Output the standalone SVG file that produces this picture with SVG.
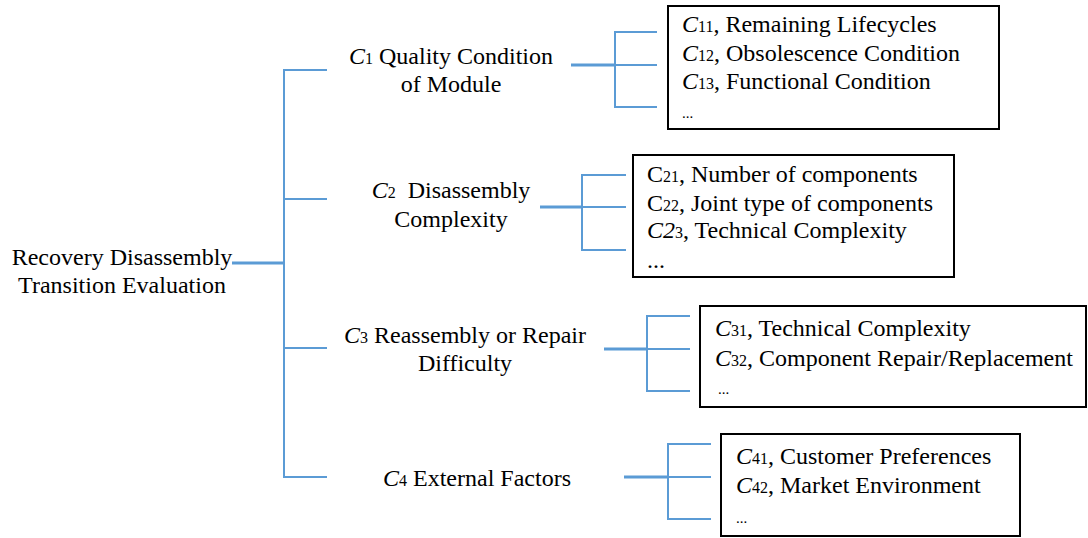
<svg xmlns="http://www.w3.org/2000/svg" width="1088" height="538" viewBox="0 0 1088 538">
  <style>
    text { font-family: "Liberation Serif", "Times New Roman", serif; fill: #000; }
    .lbl { font-size: 24px; text-anchor: middle; }
    .itm { font-size: 24px; }
    .i { font-style: italic; }
    .sub { font-size: 16px; }
    .dots { font-size: 15px; }
    .ln { stroke: #5B9BD5; stroke-width: 2; fill: none; }
    .stem { stroke: #5B9BD5; stroke-width: 3; fill: none; }
    .box { fill: #fff; stroke: #000; stroke-width: 2; }
  </style>

  <!-- connectors -->
  <g id="connectors">
    <!-- root trunk and first-level bracket -->
    <line class="stem" x1="232" y1="263" x2="284" y2="263"/>
    <path class="ln" d="M327 70 H284 V477 H327 M284 199 H327 M284 348 H327"/>
    <!-- C1 bracket -->
    <line class="stem" x1="571" y1="65" x2="615" y2="65"/>
    <path class="ln" d="M657 32 H615 V107 H657 M615 65 H657"/>
    <!-- C2 bracket -->
    <line class="stem" x1="540" y1="207" x2="582" y2="207"/>
    <path class="ln" d="M626 175 H582 V250 H626 M582 207 H626"/>
    <!-- C3 bracket -->
    <line class="stem" x1="604" y1="349" x2="647" y2="349"/>
    <path class="ln" d="M690 316 H647 V391 H690 M647 349 H690"/>
    <!-- C4 bracket -->
    <line class="stem" x1="624" y1="477" x2="668" y2="477"/>
    <path class="ln" d="M711 444 H668 V519 H711 M668 477 H711"/>
  </g>

  <!-- root -->
  <g id="root">
    <text class="lbl" x="122" y="265">Recovery Disassembly</text>
    <text class="lbl" x="122" y="293">Transition Evaluation</text>
  </g>

  <!-- first-level criteria -->
  <g id="c1">
    <text class="lbl" x="451" y="64"><tspan class="i">C</tspan><tspan class="sub">1</tspan> Quality Condition</text>
    <text class="lbl" x="451" y="92">of Module</text>
  </g>
  <g id="c2">
    <text class="lbl" x="451" y="198"><tspan class="i">C</tspan><tspan class="sub">2</tspan>&#160; Disassembly</text>
    <text class="lbl" x="451" y="227">Complexity</text>
  </g>
  <g id="c3">
    <text class="lbl" x="465" y="343"><tspan class="i">C</tspan><tspan class="sub">3</tspan> Reassembly or Repair</text>
    <text class="lbl" x="465" y="371">Difficulty</text>
  </g>
  <g id="c4">
    <text class="lbl" x="477" y="486"><tspan class="i">C</tspan><tspan class="sub">4</tspan> External Factors</text>
  </g>

  <!-- sub-criteria boxes -->
  <g id="c1-items">
    <rect class="box" x="668" y="6" width="331" height="123"/>
    <text class="itm" x="682" y="32"><tspan class="i">C</tspan><tspan class="sub">11</tspan>, Remaining Lifecycles</text>
    <text class="itm" x="682" y="61"><tspan class="i">C</tspan><tspan class="sub">12</tspan>, Obsolescence Condition</text>
    <text class="itm" x="682" y="89"><tspan class="i">C</tspan><tspan class="sub">13</tspan>, Functional Condition</text>
    <text class="dots" x="682" y="118">...</text>
  </g>
  <g id="c2-items">
    <rect class="box" x="633" y="155" width="321" height="122"/>
    <text class="itm" x="647" y="182">C<tspan class="sub">21</tspan>, Number of components</text>
    <text class="itm" x="647" y="211">C<tspan class="sub">22</tspan>, Joint type of components</text>
    <text class="itm" x="647" y="238"><tspan class="i">C2</tspan><tspan class="sub">3</tspan>, Technical Complexity</text>
    <text class="itm" x="647" y="268">...</text>
  </g>
  <g id="c3-items">
    <rect class="box" x="700" y="306" width="386" height="101"/>
    <text class="itm" x="715" y="336"><tspan class="i">C</tspan><tspan class="sub">31</tspan>, Technical Complexity</text>
    <text class="itm" x="715" y="366"><tspan class="i">C</tspan><tspan class="sub">32</tspan>, Component Repair/Replacement</text>
    <text class="dots" x="718" y="394">...</text>
  </g>
  <g id="c4-items">
    <rect class="box" x="721" y="434" width="299" height="102"/>
    <text class="itm" x="736" y="464"><tspan class="i">C</tspan><tspan class="sub">41</tspan>, Customer Preferences</text>
    <text class="itm" x="736" y="493"><tspan class="i">C</tspan><tspan class="sub">42</tspan>, Market Environment</text>
    <text class="dots" x="736" y="523">...</text>
  </g>
</svg>
